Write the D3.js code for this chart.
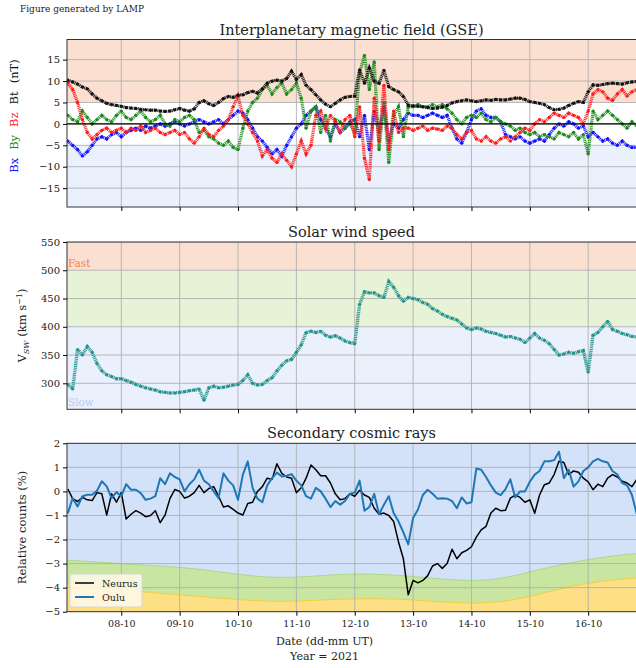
<!DOCTYPE html>
<html>
<head>
<meta charset="utf-8">
<script src="https://cdn.jsdelivr.net/npm/d3@7"></script>
<style>
  body { margin: 0; background: #fff; }
  svg { display: block; font-family: "DejaVu Serif", serif; }
</style>
</head>
<body>
<svg id="fig" width="636" height="668"></svg>
<script>
// ---- data (2-hourly samples, first sample 07-10 02:00 UT) ----
const bx = [
  -4.0, -5.0, -6.0, -7.5, -6.5, -5.0, -3.5, -3.0, -3.5, -2.5,
  -2.0, -3.0, -2.0, -1.5, -1.0, -1.5, -0.5, -1.0, -0.5, 0.0,
  -0.5, 0.0, 0.5, 0.0, -0.5, 0.0, 0.5, 1.0, 0.5, 0.0,
  0.5, 1.0, 0.0, 1.0, 2.0, 3.0, 2.5, 1.0, -1.0, -3.0,
  -4.0, -5.5, -7.0, -6.0, -7.5, -5.0, -3.0, -1.0, 0.0, 2.0,
  3.0, 4.0, 1.0, -1.0, -3.0, 0.0, -2.0, -1.0, 0.5, 1.0,
  -3.0, 2.0, -6.0, 3.0, -2.0, 4.0, -4.0, 0.0, -1.0, 1.0,
  2.5, 2.0, 2.0, 1.5, 2.0, 2.5, 2.0, 1.5, 2.0, -1.0,
  -3.5, -4.5, -2.0, 1.0, 3.0, 3.5, 2.0, 1.5, 1.5, 0.5,
  -2.5, -3.0, -3.5, -3.0, -4.0, -4.5, -4.0, -3.5, -4.0, -2.5,
  -1.0, 0.0, -0.5, 0.5, 0.0, -1.0, -0.5, -3.0, -2.0, -3.0,
  -4.0, -3.5, -4.5, -5.0, -4.0, -5.0, -5.5, -5.5
];
const by = [
  2.0, 1.0, 0.5, 3.0, 1.5, 0.0, 1.0, 2.0, 1.0, 0.5,
  2.0, 3.0, 1.5, 1.0, 2.0, 3.0, 1.5, 0.5, 1.0, 2.0,
  0.0, -0.5, 1.0, 0.5, 1.5, 2.0, 1.0, -2.0, -1.5, -3.0,
  -3.5, -4.5, -5.0, -4.0, -5.5, -6.0, -1.0, 3.0, 5.0, 6.0,
  8.0, 9.0, 7.0, 8.5, 9.5, 7.0, 8.0, 9.5, 6.0, -1.0,
  3.0, 4.0, -2.0, 2.0, -4.0, 1.0, 0.5, -1.0, 0.0, -2.0,
  12.0, 16.0, 8.0, 14.5, -6.0, 5.0, -9.0, 2.0, 4.0, -3.0,
  4.0, 4.0, 4.5, 4.0, 4.0, 4.5, 4.0, 4.5, 3.5, 2.5,
  1.0, 0.0, 1.5, 2.0, 1.5, 2.5, 1.0, 0.5, 1.5, 0.5,
  0.0, -0.5, -1.5, -1.0, -2.0, -2.5, -2.0, -3.0, -2.5, -3.0,
  -3.5, -2.0, -2.5, -3.0, -2.0, -3.5, -2.5, -7.0, 3.0, 1.0,
  2.0, 3.0, 2.0, 1.0, 0.0, -1.0, 0.5, -0.5
];
const bz = [
  9.5, 8.0, 5.0, 1.0, -2.0, -3.5, -2.5, -1.5, -1.0, -2.0,
  -1.5, -1.0, -2.0, -1.0, -1.5, -0.5, -2.0, -1.5, -1.0, -2.0,
  -2.5, -2.0, -1.5, -2.5, -2.0, -3.5, -4.5, -3.0, -1.0, -2.5,
  -3.0, -1.5, -0.5, 1.0, 4.0, 6.5, 2.0, 0.0, -2.0, -4.0,
  -7.5, -6.0, -8.0, -9.0, -7.0, -8.5, -10.0, -7.0, -4.0, -7.0,
  -5.0, 2.0, 3.0, -1.0, 2.0, 0.5, -2.0, 1.0, 2.0, -3.0,
  4.0, -8.0, -13.0, 6.0, -4.0, 9.0, -6.0, 3.0, -2.0, -1.0,
  -1.0, -1.5, -1.0, -0.5, -1.5, -1.0, -1.2, -1.5, -0.5, -1.0,
  -2.5, -3.5, -2.0, -1.5, -3.5, -4.0, -3.0, -4.0, -4.5, -3.5,
  -3.0, -4.0, -3.0, -2.0, -1.0, -1.5, 0.0, 1.0, 0.5, 1.5,
  2.5, 2.0, 1.5, 2.5, 2.0, 1.5, 0.0, 3.0, 7.0, 8.0,
  7.5, 6.0, 5.5, 7.0, 8.0, 6.5, 7.5, 8.0
];
const bt = [
  10.2, 9.8, 9.3, 8.6, 8.2, 7.0, 6.0, 5.4, 4.8, 4.5,
  4.3, 4.1, 3.8, 3.7, 3.6, 3.4, 3.3, 3.2, 3.2, 3.0,
  2.9, 3.0, 3.3, 3.6, 3.2, 3.0, 3.5, 5.0, 5.4, 4.7,
  4.3, 5.0, 5.9, 6.4, 6.2, 6.7, 6.8, 7.3, 7.6, 7.2,
  8.2, 9.5, 10.0, 10.2, 10.0, 10.6, 12.3, 10.4, 11.5, 9.0,
  8.0, 6.8, 5.6, 4.6, 4.0, 4.8, 5.6, 6.2, 6.4, 6.5,
  12.6, 9.5, 13.0, 10.0, 9.5, 12.5, 8.7, 8.0, 7.5, 6.4,
  4.4, 4.2, 4.1, 4.0, 3.8, 3.6, 3.7, 3.9, 4.3, 4.9,
  5.2, 5.4, 5.6, 5.4, 5.2, 5.4, 5.6, 5.5, 5.7, 5.6,
  5.6, 5.8, 6.0, 6.0, 5.7, 5.2, 5.0, 4.8, 4.5, 3.8,
  3.3, 3.4, 3.7, 4.3, 4.8, 5.2, 5.0, 7.5, 9.1, 9.0,
  9.2, 9.4, 9.5, 9.4, 9.3, 9.6, 9.8, 9.9
];
const vsw = [
  298, 290, 360, 350, 365, 355, 335, 322, 315, 312,
  308, 308, 305, 302, 298, 295, 292, 290, 288, 285,
  284, 283, 283, 284, 285, 287, 288, 290, 270, 292,
  295, 292, 293, 295, 297, 298, 305, 315, 300, 297,
  298, 305, 310, 322, 332, 340, 342, 355, 368, 390,
  392, 390, 392, 385, 382, 384, 380, 375, 372, 370,
  440, 462, 460, 460, 455, 452, 480, 470, 455, 445,
  452, 450, 448, 443, 440, 432, 428, 422, 418, 415,
  412, 405, 398, 395, 398, 396, 392, 390, 388, 385,
  382, 383, 380, 378, 372, 380, 388, 380, 376, 370,
  360, 350, 352, 355, 353, 356, 358, 320, 385, 390,
  400, 410, 395, 392, 388, 386, 383, 382
];
const neurus = [
  0.1, -0.3, -0.42, -0.25, -0.35, -0.38, -0.05, -0.1, -0.98, -0.1,
  -0.45, -0.05, -1.15, -0.95, -0.8, -0.9, -1.05, -1.0, -0.8, -1.3,
  -0.98, -0.3, 0.08, 0.0, -0.28, -0.2, -0.05, 0.25, -0.05, 0.12,
  0.2, -0.2, -0.65, -0.6, -0.75, -0.9, -0.98, -0.5, -0.45, 0.0,
  0.2, 0.55, 0.5, 1.15, 0.75, 0.6, 0.55, -0.05, 0.15, 0.55,
  1.1, 0.9, 0.65, 0.65, 0.35, -0.1, -0.35, -0.3, -0.1, -0.2,
  0.05, -0.15, -0.25, -0.7, -0.95, -0.9, -1.0, -1.25, -2.1, -2.8,
  -4.3, -3.7, -3.8, -3.7, -3.5, -3.1, -3.0, -3.2, -3.0, -2.4,
  -2.8, -2.55, -2.45, -2.3, -1.9, -1.6, -1.45, -0.9, -0.7, -0.8,
  -0.78, -0.28, -0.15, -0.25, -0.45, -0.35, -0.91, -0.15, 0.28, 0.35,
  0.7, 1.25, 1.2, 0.7, 0.85, 0.8, 0.55, 0.4, 0.07, 0.3,
  0.2, 0.55, 0.7, 0.6, 0.42, 0.35, 0.2, 0.5
];
const oulu = [
  -0.91, -0.28, -0.63, -0.2, -0.14, -0.14, 0.03, 0.42, 0.21, -0.28,
  -0.03, -0.2, 0.3, 0.07, 0.07, -0.07, -0.35, -0.3, -0.2, 0.55,
  0.3, 0.75, 0.6, 0.5, 0.0, 0.3, 0.5, 0.9, 0.45, 0.3,
  0.0, -0.28, 0.75, 0.45, 0.25, -0.35, 0.7, 1.25, 0.15, -0.3,
  -0.45, 0.25, 0.55, 0.78, 0.62, 0.65, 0.72, 0.45, 0.25, -0.2,
  -0.3, 0.15, 0.0, -0.3, -0.65, -0.4, -0.55, -0.4, -0.1, -0.05,
  0.45, -0.8, -0.65, -0.1, -0.95, -0.55, -0.2, -0.9, -1.25, -1.7,
  -2.2, -1.1, -0.75, -0.15, 0.07, -0.1, -0.3, -0.28, -0.3, -0.4,
  -0.7, -0.25, -0.5, -0.45, 0.95, 0.9, 0.6, 0.25, -0.05, -0.15,
  0.1, 0.5, -0.25, 0.0, 0.0, 0.4, 0.7, 0.85, 1.25, 1.25,
  1.3, 1.65, 0.55, 0.9, 0.2, 0.42, 0.85, 1.0, 1.25, 1.35,
  1.25, 1.2, 0.85, 0.7, 0.35, 0.25, -0.15, -0.95
];
// cosmic-ray background bands, 12-hourly from 07-10 00:00 UT
const greenTop = [
  -2.85, -2.92, -3.0, -3.08, -3.15, -3.28, -3.45, -3.58, -3.58, -3.48,
  -3.42, -3.45, -3.53, -3.65, -3.73, -3.65, -3.35, -3.05, -2.83, -2.65, -2.55
];
const yellowTop = [
  -3.8, -3.95, -4.1, -4.2, -4.3, -4.4, -4.5, -4.57, -4.57, -4.5,
  -4.46, -4.46, -4.5, -4.6, -4.66, -4.6, -4.38, -4.05, -3.8, -3.65, -3.57
];
const imfTicks = [-15, -10, -5, 0, 5, 10, 15];
const vswTicks = [300, 350, 400, 450, 500, 550];
const crTicks = [-5, -4, -3, -2, -1, 0, 1, 2];

const t0 = new Date(Date.UTC(2021, 9, 7, 2));
const times = bt.map((d, i) => d3.utcHour.offset(t0, 2 * i));
const bandTimes = greenTop.map((d, i) => d3.utcHour.offset(new Date(Date.UTC(2021, 9, 7)), 12 * i));
const dayTicks = d3.utcDay.range(new Date(Date.UTC(2021, 9, 8)), new Date(Date.UTC(2021, 9, 17)));

// ---- layout ----
const svg = d3.select('#fig');
const L = 67, R = 642;
const x = d3.scaleUtc()
  .domain([new Date(Date.UTC(2021, 9, 7, 1, 40)), new Date(Date.UTC(2021, 9, 16, 19, 40))])
  .range([67, 636]);

svg.append('text').attr('x', 20).attr('y', 12)
  .attr('font-size', 9).attr('fill', '#222').text('Figure generated by LAMP');

function makePanel(id, top, bottom, domain, ticks, title, showDates) {
  const y = d3.scaleLinear().domain(domain).range([bottom, top]);
  svg.append('clipPath').attr('id', 'clip-' + id).append('rect')
    .attr('x', L).attr('y', top).attr('width', R - L).attr('height', bottom - top);
  const plot = svg.append('g').attr('clip-path', `url(#clip-${id})`);
  const back = plot.append('g');
  const grid = plot.append('g');
  const marks = plot.append('g');
  const front = plot.append('g');

  grid.selectAll('line.v').data(dayTicks).join('line')
    .attr('x1', d => x(d)).attr('x2', d => x(d)).attr('y1', top).attr('y2', bottom)
    .attr('stroke', '#b0b0b0').attr('stroke-width', 0.9);
  grid.selectAll('line.h').data(ticks).join('line')
    .attr('x1', L).attr('x2', R).attr('y1', d => y(d)).attr('y2', d => y(d))
    .attr('stroke', '#b0b0b0').attr('stroke-width', 0.9);

  svg.append('rect').attr('x', L).attr('y', top).attr('width', R - L).attr('height', bottom - top)
    .attr('fill', 'none').attr('stroke', '#333').attr('stroke-width', 1);

  const ya = svg.append('g').attr('transform', `translate(${L},0)`)
    .call(d3.axisLeft(y).tickValues(ticks).tickSize(4).tickPadding(3).tickFormat(d3.format('d')));
  ya.select('.domain').remove();
  ya.selectAll('text').attr('font-size', 10).attr('font-family', '"DejaVu Serif", serif').attr('fill', '#222');

  const xa = svg.append('g').attr('transform', `translate(0,${bottom})`)
    .call(d3.axisBottom(x).tickValues(dayTicks).tickSize(4).tickPadding(5)
      .tickFormat(showDates ? d3.utcFormat('%d-%m') : () => ''));
  xa.select('.domain').remove();
  xa.selectAll('text').attr('font-size', 9.5).attr('font-family', '"DejaVu Serif", serif').attr('fill', '#222');

  svg.append('text').attr('x', (67 + 636) / 2).attr('y', top - 5)
    .attr('text-anchor', 'middle').attr('font-size', 14.5).attr('fill', '#222').text(title);

  return { y, back, marks, front, top, bottom };
}

// ---- panel 1: IMF ----
const p1 = makePanel('imf', 39.5, 207, [-19.4, 19.7], imfTicks, 'Interplanetary magnetic field (GSE)', false);
p1.back.append('rect').attr('x', L).attr('width', R - L)
  .attr('y', p1.top).attr('height', p1.y(5) - p1.top).attr('fill', '#fbe0d2');
p1.back.append('rect').attr('x', L).attr('width', R - L)
  .attr('y', p1.y(-5)).attr('height', p1.bottom - p1.y(-5)).attr('fill', '#eaf1fc');

const imfSeries = [
  { vals: bx, color: '#1010ff' },
  { vals: by, color: '#1a8a1a' },
  { vals: bz, color: '#ff1a1a' },
  { vals: bt, color: '#111' }
];
imfSeries.forEach(s => {
  const line = d3.line().x((d, i) => x(times[i])).y(d => p1.y(d));
  p1.marks.append('path').datum(s.vals).attr('d', line)
    .attr('fill', 'none').attr('stroke', s.color).attr('stroke-width', 3.2)
    .attr('stroke-dasharray', '1.1 0.7').attr('opacity', 0.9);
  p1.marks.selectAll(null).data(s.vals).join('circle')
    .attr('cx', (d, i) => x(times[i])).attr('cy', d => p1.y(d)).attr('r', 1.6)
    .attr('fill', s.color);
});
p1.front.append('line').attr('x1', L).attr('x2', R).attr('y1', p1.y(0)).attr('y2', p1.y(0))
  .attr('stroke', '#000').attr('stroke-width', 1.2);

const lab1 = svg.append('text').attr('transform', 'translate(18,116) rotate(-90)')
  .attr('text-anchor', 'middle').attr('font-size', 11.5);
[['Bx', '#1010ff'], ['By', '#1a8a1a'], ['Bz', '#ff1a1a'], ['Bt', '#111'], ['(nT)', '#111']]
  .forEach(([t, c], i) => lab1.append('tspan').attr('fill', c).attr('dx', i ? 8 : 0).text(t));

// ---- panel 2: solar wind speed ----
const p2 = makePanel('vsw', 242, 409.3, [254, 550], vswTicks, 'Solar wind speed', false);
p2.back.append('rect').attr('x', L).attr('width', R - L)
  .attr('y', p2.top).attr('height', p2.y(500) - p2.top).attr('fill', '#fbe0d2');
p2.back.append('rect').attr('x', L).attr('width', R - L)
  .attr('y', p2.y(500)).attr('height', p2.y(400) - p2.y(500)).attr('fill', '#e6f3d6');
p2.back.append('rect').attr('x', L).attr('width', R - L)
  .attr('y', p2.y(400)).attr('height', p2.bottom - p2.y(400)).attr('fill', '#eaf1fc');
p2.front.append('text').attr('x', 68).attr('y', p2.y(505)).attr('font-size', 10.5)
  .attr('fill', '#f4843f').text('Fast');
p2.front.append('text').attr('x', 68).attr('y', p2.y(260)).attr('font-size', 10.5)
  .attr('fill', '#b5cbf5').text('Slow');
const vline = d3.line().x((d, i) => x(times[i])).y(d => p2.y(d));
p2.marks.append('path').datum(vsw).attr('d', vline)
  .attr('fill', 'none').attr('stroke', '#21918c').attr('stroke-width', 3.4)
  .attr('stroke-dasharray', '1.1 0.7').attr('opacity', 0.9);
p2.marks.selectAll(null).data(vsw).join('circle')
  .attr('cx', (d, i) => x(times[i])).attr('cy', d => p2.y(d)).attr('r', 1.5)
  .attr('fill', '#21918c');

svg.append('text').attr('transform', `translate(26,${(242 + 409) / 2}) rotate(-90)`)
  .attr('text-anchor', 'middle').attr('font-size', 11.5).attr('fill', '#222')
  .call(t => {
    t.append('tspan').text('V');
    t.append('tspan').attr('font-size', 8).attr('font-style', 'italic').attr('dy', 3).text('SW');
    t.append('tspan').attr('dy', -3).text(' (km s');
    t.append('tspan').attr('font-size', 8).attr('dy', -4).text('−1');
    t.append('tspan').attr('dy', 4).text(')');
  });

// ---- panel 3: cosmic rays ----
const p3 = makePanel('cr', 443.3, 611.7, [-5, 2], crTicks, 'Secondary cosmic rays', true);
p3.back.append('rect').attr('x', L).attr('width', R - L)
  .attr('y', p3.top).attr('height', p3.bottom - p3.top).attr('fill', '#d3e1f9');
const bandArea = d3.area().curve(d3.curveBasis)
  .x((d, i) => x(bandTimes[i])).y0(p3.y(-5)).y1(d => p3.y(d));
p3.back.append('path').datum(greenTop).attr('d', bandArea)
  .attr('fill', '#c9e5a2').attr('stroke', '#a9d98a').attr('stroke-width', 1);
p3.back.append('path').datum(yellowTop).attr('d', bandArea)
  .attr('fill', '#fddf85').attr('stroke', '#f2cf3c').attr('stroke-width', 1);

const crLine = d3.line().x((d, i) => x(times[i])).y(d => p3.y(d));
p3.marks.append('path').datum(neurus).attr('d', crLine)
  .attr('fill', 'none').attr('stroke', '#000').attr('stroke-width', 1.5).attr('stroke-linejoin', 'round');
p3.marks.append('path').datum(oulu).attr('d', crLine)
  .attr('fill', 'none').attr('stroke', '#1f77b4').attr('stroke-width', 2).attr('stroke-linejoin', 'round');

const leg = p3.front.append('g').attr('transform', 'translate(70,574)');
leg.append('rect').attr('width', 72).attr('height', 33).attr('rx', 2.5)
  .attr('fill', '#fffaea').attr('fill-opacity', 0.85).attr('stroke', '#d8d8d8');
[['Neurus', '#000', 1.5], ['Oulu', '#1f77b4', 2]].forEach(([name, c, w], i) => {
  leg.append('line').attr('x1', 5).attr('x2', 24).attr('y1', 9 + i * 14).attr('y2', 9 + i * 14)
    .attr('stroke', c).attr('stroke-width', w);
  leg.append('text').attr('x', 32).attr('y', 12.5 + i * 14).attr('font-size', 9.5)
    .attr('fill', '#222').text(name);
});

svg.append('text').attr('transform', `translate(26,${(443 + 612) / 2}) rotate(-90)`)
  .attr('text-anchor', 'middle').attr('font-size', 11.5).attr('fill', '#222')
  .text('Relative counts (%)');

svg.append('text').attr('x', (67 + 636) / 2 - 27).attr('y', 645).attr('text-anchor', 'middle')
  .attr('font-size', 11).attr('fill', '#222').text('Date (dd-mm UT)');
svg.append('text').attr('x', (67 + 636) / 2 - 27).attr('y', 660).attr('text-anchor', 'middle')
  .attr('font-size', 11).attr('fill', '#222').text('Year = 2021');
</script>
</body>
</html>
